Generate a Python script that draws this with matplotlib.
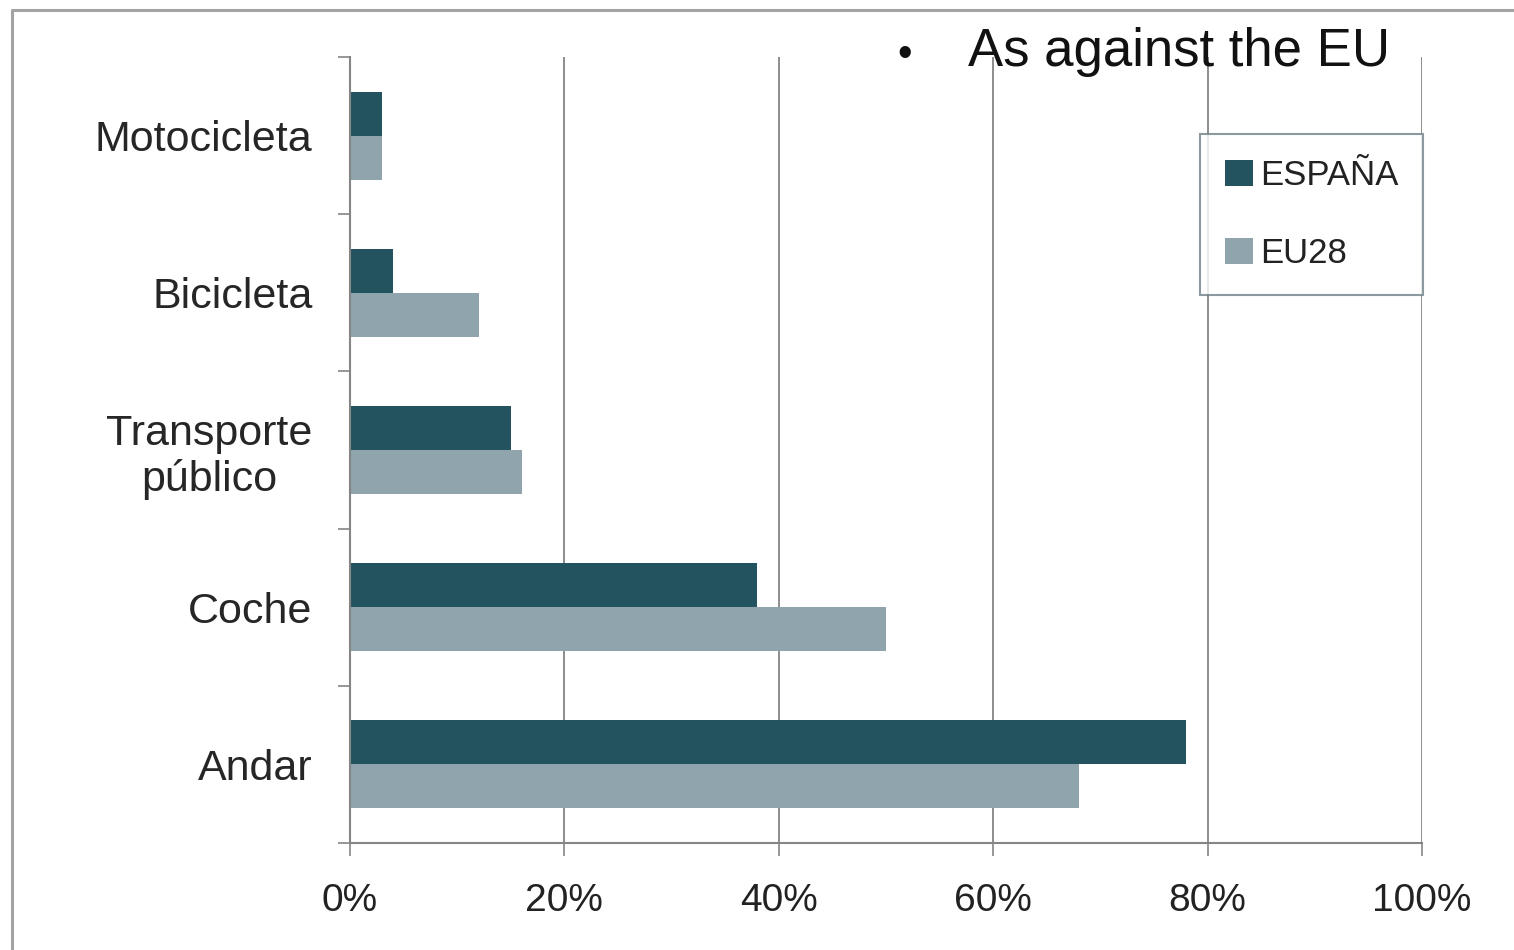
import numpy as np
import matplotlib.pyplot as plt
from matplotlib.lines import Line2D
from matplotlib.ticker import FixedLocator

plt.rcParams['font.family'] = ['Liberation Sans', 'DejaVu Sans']

# modal share, bottom to top
categorias = ["Andar", "Coche", "Transporte\npúblico", "Bicicleta", "Motocicleta"]
espana = [78, 38, 15, 4, 3]
eu28 = [68, 50, 16, 12, 3]
xticks = [0, 20, 40, 60, 80, 100]
xlabels = ["0%", "20%", "40%", "60%", "80%", "100%"]

c_es = "#23535f"
c_eu = "#8fa4ac"
c_grid = "#858585"

fig = plt.figure(figsize=(15.14, 9.5), dpi=100)
ax = fig.add_axes([350/1514, 1 - 843/950, 1072/1514, 786/950])

y = np.arange(len(categorias))
h = 0.28
ax.barh(y + h/2, espana, height=h, color=c_es, label="ESPAÑA", zorder=2)
ax.barh(y - h/2, eu28, height=h, color=c_eu, label="EU28", zorder=2)

ax.set_xlim(0, 100)
ax.set_ylim(-0.5, len(categorias) - 0.5)

ax.set_xticks(xticks)
ax.set_xticklabels(xlabels, fontsize=28, color="#222222")
ax.tick_params(axis="x", length=9, width=1.2, color=c_grid, pad=20)

ax.set_yticks(y)
ax.set_yticklabels(categorias, fontsize=31, color="#262626", multialignment="center", linespacing=1.15)
ax.tick_params(axis="y", which="major", length=0, pad=27)
ax.yaxis.set_minor_locator(FixedLocator(np.arange(-0.5, len(categorias), 1.0)))
ax.tick_params(axis="y", which="minor", length=9, width=1.2, color=c_grid)

for v in xticks[1:]:
    ax.axvline(v, color=c_grid, lw=1.3, zorder=1)

for side in ["top", "right"]:
    ax.spines[side].set_visible(False)
for side in ["left", "bottom"]:
    ax.spines[side].set_color(c_grid)
    ax.spines[side].set_linewidth(1.5)

leg = ax.legend(loc="upper left", bbox_to_anchor=(1200/1514, 1 - 134/950),
                bbox_transform=fig.transFigure, borderaxespad=0,
                fontsize=25, frameon=True, fancybox=False,
                handlelength=0.8, handleheight=0.8, handletextpad=0.2,
                labelspacing=1.3, borderpad=0.72)
leg.get_frame().set_edgecolor("#6f8088")
leg.get_frame().set_linewidth(1.5)
for t in leg.get_texts():
    t.set_color("#222222")

# heading with bullet
fig.text(905/1514, 1 - 55/950, "•", fontsize=30, va="center", ha="center", color="#111111")
fig.text(968/1514, 1 - 52/950, "As against the EU", fontsize=38, va="center", ha="left", color="#111111")

# outer frame
fig.add_artist(Line2D([12/1514, 12/1514, 1], [0, 1 - 10/950, 1 - 10/950],
                      transform=fig.transFigure, color="#a3a3a3", lw=2.2))

fig.savefig("out.png", dpi=100)
